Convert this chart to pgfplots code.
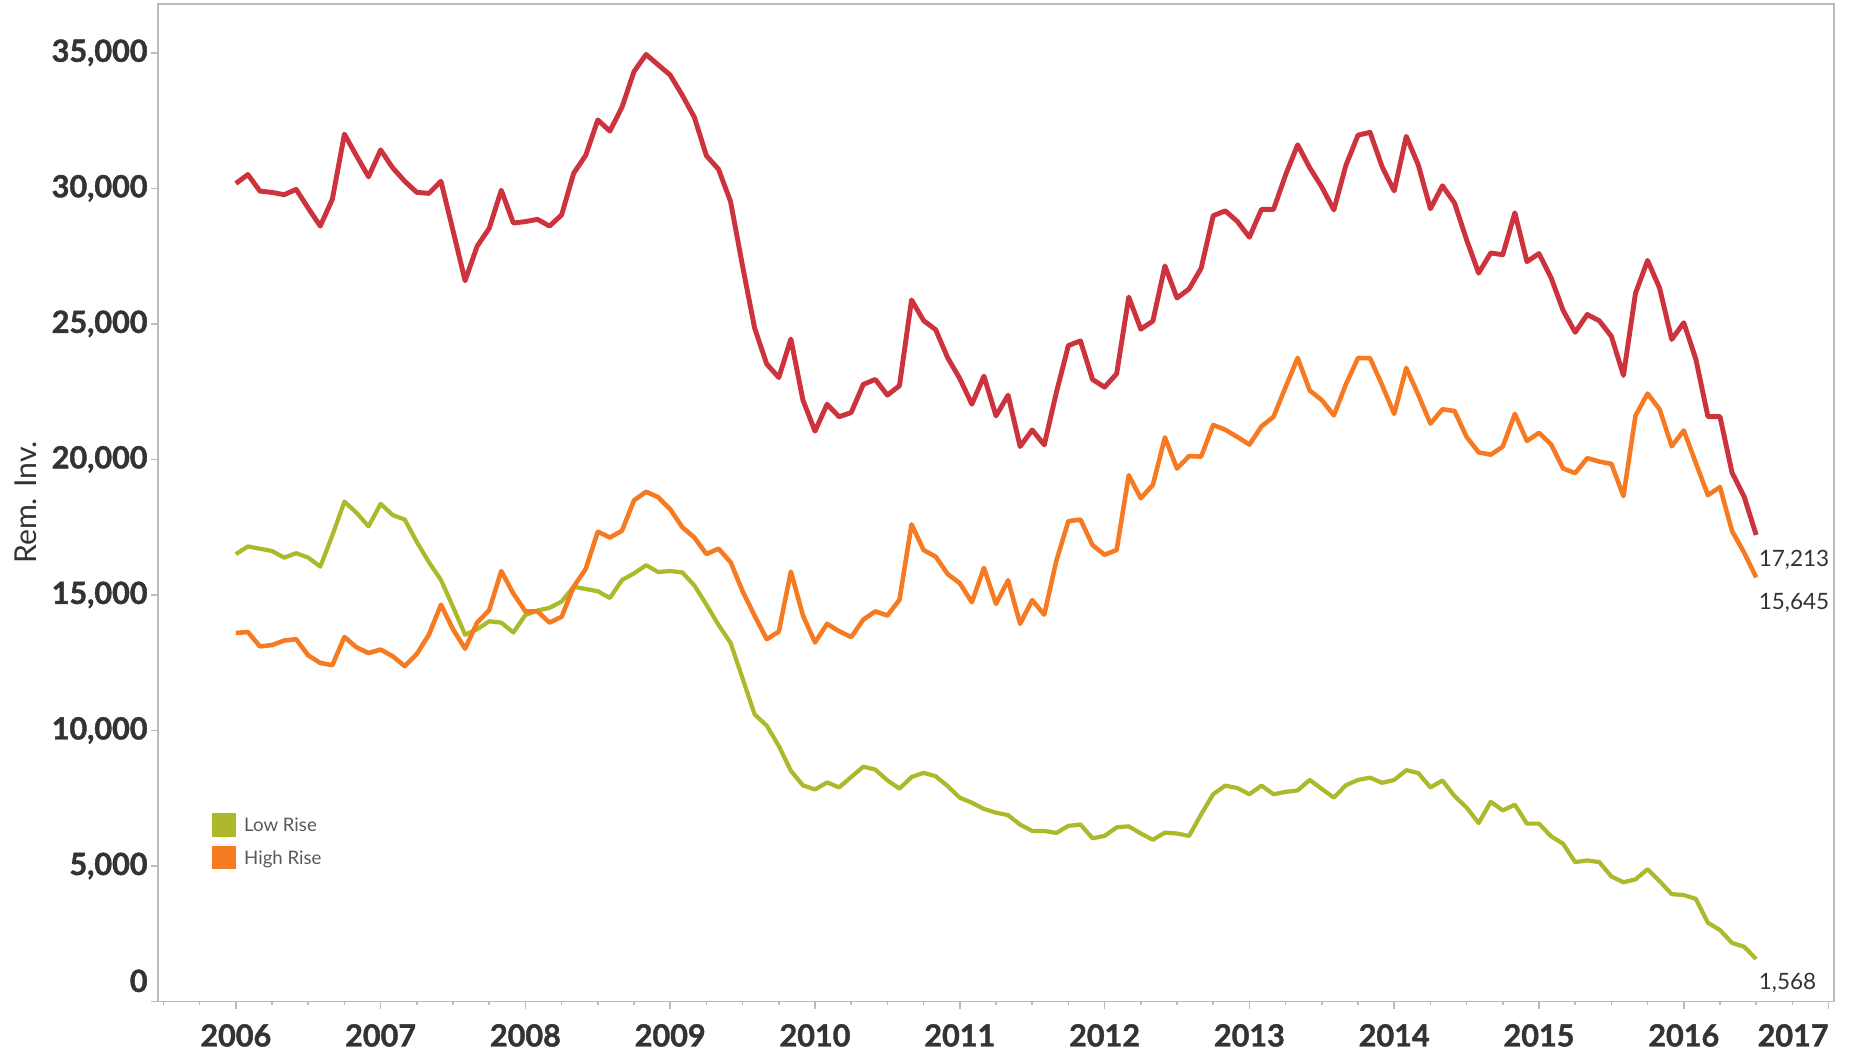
\documentclass[border=0pt]{standalone}
\usepackage{pgfplots}
\usepackage{pgfplotstable}
\pgfplotsset{compat=1.18}
\usepackage{fontspec}
\setmainfont{Lato}
\newfontfamily\tickfont{Lato}[BoldFeatures={FakeBold=1.3}]
\definecolor{totred}{HTML}{CC333D}
\definecolor{hiorange}{HTML}{F67A22}
\definecolor{logreen}{HTML}{ABB92B}
\definecolor{axgray}{HTML}{BBBBBB}
\definecolor{txt}{HTML}{333333}
\definecolor{legtxt}{HTML}{595959}

\pgfplotstableread{
m red orange green
0 30177 13597 16507
1 30508 13630 16788
2 29896 13101 16705
3 29850 13150 16620
4 29764 13316 16375
5 29962 13366 16540
6 29268 12770 16375
7 28607 12490 16044
8 29600 12407 17200
9 32000 13448 18440
10 31200 13068 18030
11 30425 12853 17530
12 31417 12985 18360
13 30756 12738 17945
14 30260 12374 17780
15 29850 12820 16953
16 29814 13530 16210
17 30260 14640 15550
18 28440 13730 14556
19 26590 13018 13532
20 27863 13978 13730
21 28525 14440 14027
22 29930 15880 13978
23 28720 15050 13614
24 28772 14391 14259
25 28855 14391 14424
26 28607 13978 14523
27 29020 14193 14755
28 30557 15300 15300
29 31218 15962 15218
30 32524 17333 15135
31 32111 17118 14887
32 32987 17366 15548
33 34310 18490 15796
34 34938 18805 16094
35 34558 18606 15846
36 34177 18160 15880
37 33434 17499 15830
38 32624 17118 15350
39 31202 16507 14640
40 30706 16705 13895
41 29516 16210 13234
42 27119 15135 11912
43 24838 14226 10589
44 23516 13366 10176
45 23020 13647 9427
46 24441 15860 8510
47 22186 14240 7975
48 21040 13247 7822
49 22033 13934 8082
50 21574 13659 7899
51 21727 13445 8281
52 22766 14087 8663
53 22950 14393 8556
54 22369 14240 8159
55 22720 14820 7853
56 25883 17602 8281
57 25119 16654 8434
58 24783 16410 8311
59 23744 15768 7945
60 22980 15432 7517
61 22033 14729 7333
62 23072 15997 7104
63 21605 14668 6967
64 22369 15539 6875
65 20474 13934 6524
66 21085 14805 6294
67 20535 14271 6294
68 22461 16257 6218
69 24200 17720 6480
70 24370 17780 6530
71 22948 16834 6020
72 22665 16481 6109
73 23160 16657 6427
74 25987 19414 6462
75 24803 18566 6197
76 25104 19061 5967
77 27136 20811 6232
78 25952 19662 6197
79 26288 20121 6109
80 27048 20103 6904
81 28991 21270 7646
82 29168 21093 7964
83 28779 20828 7876
84 28196 20545 7646
85 29221 21217 7964
86 29221 21570 7646
87 30493 22666 7735
88 31606 23743 7787
89 30758 22542 8176
90 30051 22188 7841
91 29203 21623 7522
92 30850 22770 7980
93 31960 23740 8176
94 32066 23734 8258
95 30794 22738 8068
96 29904 21678 8174
97 31918 23374 8534
98 30858 22378 8428
99 29246 21318 7898
100 30094 21848 8152
101 29458 21784 7580
102 28102 20830 7156
103 26872 20258 6584
104 27614 20173 7368
105 27550 20470 7050
106 29098 21678 7262
107 27296 20682 6562
108 27593 20978 6562
109 26702 20556 6096
110 25494 19664 5820
111 24688 19494 5142
112 25346 20046 5206
113 25112 19918 5142
114 24540 19834 4612
115 23098 18646 4400
116 26130 21614 4506
117 27339 22427 4881
118 26314 21844 4439
119 24424 20483 3962
120 25042 21067 3927
121 23699 19865 3786
122 21579 18681 2902
123 21579 18981 2637
124 19511 17356 2160
125 18628 16561 2019
126 17213 15645 1568
}\data

\begin{document}
\begin{tikzpicture}
\useasboundingbox (-1.58cm,-0.485cm) rectangle (16.92cm,10.015cm);
\begin{axis}[
  at={(0,0)}, anchor=south west,
  scale only axis, width=16.76cm, height=9.975cm,
  xmin=-6.45, xmax=132.45, ymin=0, ymax=36800,
  clip=false,
  no markers,
  axis line style={axgray, line width=0.45pt},
  tick style={axgray, line width=0.45pt},
  tick align=outside,
  tick pos=left,
  major tick length=0.07cm,
  minor tick length=0.035cm,
  xtick={0,12,...,132},
  xticklabels={2006,2007,2008,2009,2010,2011,2012,2013,2014,2015,2016,\makebox[0pt][r]{2017}},
  minor xtick={-6,-3,...,132},
  ytick={0,5000,...,35000},
  yticklabels={\raisebox{0.096cm}[0pt][0pt]{0},{5,000},{10,000},{15,000},{20,000},{25,000},{30,000},{35,000}},
  ticklabel style={font=\tickfont\bfseries\fontsize{8.7}{10}\selectfont, text=txt},
  xticklabel style={yshift=-0.032cm},
  yticklabel style={xshift=0.09cm},
]
\addplot[logreen, line width=1.2pt, line join=round] table[x=m, y=green] {\data};
\addplot[hiorange, line width=1.3pt, line join=round] table[x=m, y=orange] {\data};
\addplot[totred, line width=1.4pt, line join=round] table[x=m, y=red] {\data};
\node[anchor=base west, inner sep=0pt, xshift=0.02cm, yshift=-0.316cm, font=\fontsize{6.4}{8}\selectfont, text=txt] at (axis cs:126,17213) {17,213};
\node[anchor=base west, inner sep=0pt, xshift=0.02cm, yshift=-0.316cm, font=\fontsize{6.4}{8}\selectfont, text=txt] at (axis cs:126,15645) {15,645};
\node[anchor=base west, inner sep=0pt, xshift=0.02cm, yshift=-0.306cm, font=\fontsize{6.4}{8}\selectfont, text=txt] at (axis cs:126,1568) {1,568};
\end{axis}
\node[rotate=90, anchor=base, inner sep=0pt, font=\fontsize{8.6}{10}\selectfont, text=txt] at (-1.21cm,4.99cm) {Rem. Inv.};
\fill[logreen] (0.54cm,1.645cm) rectangle (0.78cm,1.885cm);
\fill[hiorange] (0.54cm,1.325cm) rectangle (0.78cm,1.555cm);
\node[anchor=base west, inner sep=0pt, font=\fontsize{5.3}{7}\selectfont, text=legtxt] at (0.855cm,1.705cm) {Low Rise};
\node[anchor=base west, inner sep=0pt, font=\fontsize{5.3}{7}\selectfont, text=legtxt] at (0.855cm,1.372cm) {High Rise};
\end{tikzpicture}
\end{document}
